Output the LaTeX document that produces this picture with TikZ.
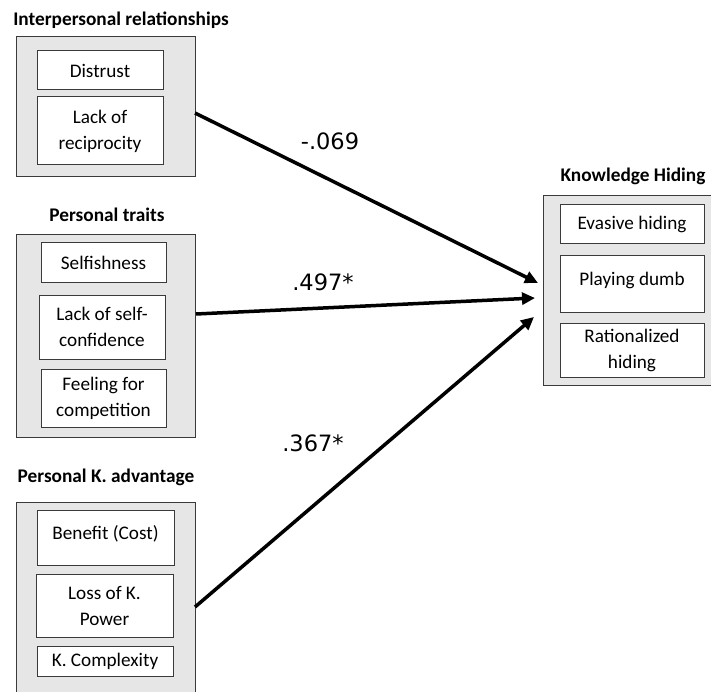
\documentclass[tikz,border=0pt]{standalone}
\usepackage{fontspec}
\setmainfont{Carlito}
\newfontfamily\labfont{DejaVu Sans}
\usetikzlibrary{arrows.meta}
\definecolor{boxgray}{HTML}{E6E6E6}
\definecolor{edge}{HTML}{3A3A3A}
\tikzset{
  group/.style={draw=edge, line width=1pt, fill=boxgray, inner sep=0pt},
  item/.style={draw=edge, line width=1pt, fill=white, align=center, inner sep=0pt,
    font=\fontsize{19.2}{26}\selectfont},
  gtitle/.style={font=\fontsize{19.3}{23}\selectfont\bfseries, inner sep=0pt},
  coef/.style={font=\fontsize{22.5}{26}\selectfont\labfont, inner sep=0pt},
  path/.style={line width=3.5pt, -{Triangle[length=13pt,width=12pt]}}
}
\begin{document}
\begin{tikzpicture}[x=1pt,y=-1pt]
\useasboundingbox (0,0) rectangle (711,692);
\clip (0,0) rectangle (711,692);
% titles
\node[gtitle] (t1) at (121,20) {Interpersonal relationships};
\node[gtitle] (t2) at (107,215) {Personal traits};
\node[gtitle] (t3) at (106,477) {Personal K. advantage};
\node[gtitle] (t4) at (633,176) {Knowledge Hiding};
% group boxes
\node[group, minimum width=179pt, minimum height=140pt] (A) at (105.5,107) {};
\node[group, minimum width=179pt, minimum height=202pt] (B) at (105.5,336) {};
\node[group, minimum width=179pt, minimum height=210pt] (C) at (105.5,607) {};
\node[group, minimum width=168pt, minimum height=189pt] (D) at (627,290.5) {};
% items
\node[item, minimum width=126pt, minimum height=39pt] (a1) at (100,70.5) {Distrust};
\node[item, minimum width=126pt, minimum height=68pt] (a2) at (100,131) {Lack of\\reciprocity};
\node[item, minimum width=125pt, minimum height=39pt] (b1) at (103.5,262.5) {Selfishness};
\node[item, minimum width=126pt, minimum height=64pt] (b2) at (102,327) {Lack of self-\\confidence};
\node[item, minimum width=125pt, minimum height=58pt] (b3) at (103.5,398) {Feeling for\\competition};
\node[item, minimum width=137pt, minimum height=55pt, text depth=10pt] (c1) at (105.5,537.5) {Benefit (Cost)};
\node[item, minimum width=137pt, minimum height=63pt] (c2) at (104.5,605.5) {Loss of K.\\Power};
\node[item, minimum width=136pt, minimum height=30pt] (c3) at (105,661) {K. Complexity};
\node[item, minimum width=144pt, minimum height=39pt] (d1) at (632,224.5) {Evasive hiding};
\node[item, minimum width=144pt, minimum height=56pt, text depth=10pt] (d2) at (632,284) {Playing dumb};
\node[item, minimum width=144pt, minimum height=54pt] (d3) at (632,350) {Rationalized\\hiding};
% connector ends
\coordinate (sA) at (195,113);
\coordinate (sB) at (196,314);
\coordinate (sC) at (195,607);
\coordinate (eA) at (538,283);
\coordinate (eB) at (535,298);
\coordinate (eC) at (534,317);
\draw[path] (sA) -- (eA);
\draw[path] (sB) -- (eB);
\draw[path] (sC) -- (eC);
% coefficients
\node[coef] (k1) at (330,141) {-.069};
\node[coef] (k2) at (323,282) {.497*};
\node[coef] (k3) at (313,443) {.367*};
\end{tikzpicture}
\end{document}
